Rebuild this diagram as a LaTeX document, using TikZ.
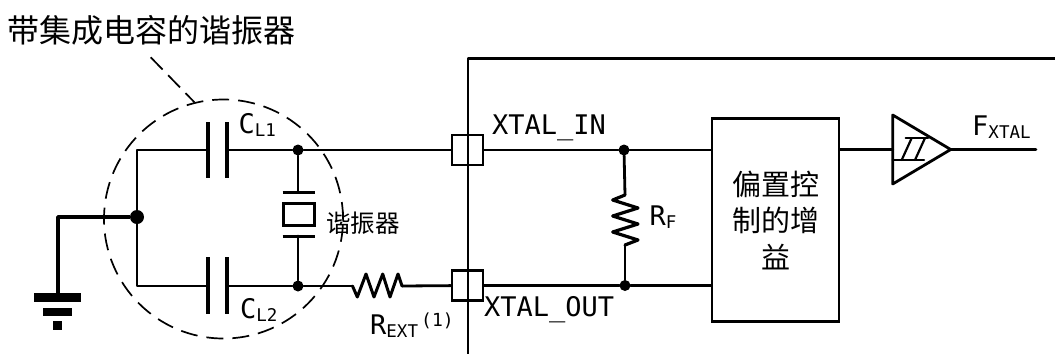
\documentclass[tikz,border=0pt]{standalone}
\usepackage{fontspec}
\setmainfont{DejaVu Sans Mono}
\newfontfamily\cjk{Noto Sans CJK SC}
\usepackage{xcolor}
\usetikzlibrary{arrows}
\newcommand{\sublow}[1]{\raisebox{-3.5pt}{\fontsize{17.5}{18}\selectfont #1}}

\begin{document}
\begin{tikzpicture}[x=1pt,y=-1pt,
  wire/.style = {line width=2.8pt,line cap=round,line join=round},
  plate/.style = {line width=4.4pt},
  lbl/.style = {anchor=base west,inner sep=0pt,font=\fontsize{27}{27}\selectfont},
  dot/.style = {circle,fill=black,inner sep=0pt,minimum size=11pt},
  pin/.style = {draw,fill=white,line width=2.8pt,minimum width=31pt,minimum height=30pt,inner sep=0pt},
  bar/.style = {fill=black,inner sep=0pt}]
\useasboundingbox (0,0) rectangle (1055,354);
\fill[white] (0,0) rectangle (1055,354);
% title and resonator circle
\node[inner sep=0pt,font=\cjk\fontsize{32}{32}\selectfont] (title) at (151.5,30) {带集成电容的谐振器};
\node[draw,dashed,circle,line width=1.7pt,minimum size=239pt,inner sep=0pt,dash pattern=on 17pt off 9pt] (res) at (223.5,219) {};
\coordinate (lead) at (150.7,57.3);
\draw[dashed,line width=1.7pt,dash pattern=on 17pt off 8pt] (lead) -- (res.104);
% pins and chip outline
\node[pin] (pinin) at (467.5,150) {};
\node[pin] (pinout) at (467.5,285.5) {};
\coordinate (chiptop) at (468,58.5);
\coordinate (chipend) at (1055,58.5);
\coordinate (chipbot) at (468,354);
\draw[wire,line cap=butt] (chipend) -- (chiptop) -- (chipbot);
% left side junctions
\node[dot,minimum size=14pt] (gnd) at (137,217) {};
\coordinate (lefttop) at (137,150);
\coordinate (leftbot) at (137,286);
\node[dot] (jtop) at (298,150) {};
\node[dot] (jbot) at (298,286) {};
\coordinate (c1a) at (208,150);
\coordinate (c1b) at (227,150);
\coordinate (c2a) at (208,286);
\coordinate (c2b) at (227,286);
\draw[wire] (c1a) -- (lefttop) -- (leftbot) -- (c2a);
\draw[wire] (c1b) -- (jtop);
\draw[wire] (c2b) -- (jbot);
\draw[plate] (208,122) -- (208,178);
\draw[plate] (227,122) -- (227,178);
\draw[plate] (208,257) -- (208,313.5);
\draw[plate] (227,257) -- (227,313.5);
\node[lbl] (cl1) at (238.5,133) {C\sublow{L1}};
\node[lbl] (cl2) at (240,318) {C\sublow{L2}};
% ground
\coordinate (gndbot) at (58,293);
\draw[line width=3.4pt,line join=round] (gnd) -| (gndbot);
\node[bar,minimum width=47pt,minimum height=8.4pt] (g1) at (57.5,297.5) {};
\node[bar,minimum width=29pt,minimum height=8.4pt] (g2) at (57.5,311.8) {};
\node[bar,minimum width=9.5pt,minimum height=8.4pt] (g3) at (57.5,325.5) {};
% crystal
\node[draw,line width=3pt,minimum width=31pt,minimum height=22pt,inner sep=0pt] (xtal) at (298.5,214) {};
\coordinate (xa) at (298,192);
\coordinate (xb) at (298,236);
\draw[wire] (jtop) -- (xa);
\draw[wire] (jbot) -- (xb);
\draw[line width=3pt] (282.5,192) -- (314.5,192);
\draw[line width=3pt] (282.5,236) -- (314.5,236);
\node[inner sep=0pt,font=\cjk\fontsize{24.5}{24.5}\selectfont] (xlbl) at (363,223) {谐振器};
% external resistor
\coordinate (ra) at (352.5,286);
\coordinate (rb) at (402,286);
\draw[wire] (jbot) -- (ra);
\draw[wire,line width=3pt] (ra) -- (357.3,297) -- (366,274) -- (374,297) -- (382.7,274) -- (390,297) -- (398,274) -- (rb);
\draw[wire] (rb) -- (pinout);
\node[lbl] (rext) at (370,334) {R\sublow{EXT}};
\node[lbl,font=\fontsize{18}{18}\selectfont] (rnote) at (421,326) {(1)};
% chip inside
\draw[wire] (jtop) -- (pinin);
\node[lbl] (xin) at (492,134) {XTAL\_IN};
\node[lbl] (xout) at (484,316) {XTAL\_OUT};
\node[draw,line width=2.8pt,minimum width=127pt,minimum height=203.5pt,inner sep=0pt,
  align=center,font=\cjk\fontsize{29}{36.5}\selectfont] (gain) at (775.5,220) {偏置控\\制的增\\益};
\node[dot] (jin) at (624,150) {};
\node[dot] (jout) at (625,285.5) {};
\draw[wire] (pinin) -- (jin) -- (jin -| gain.west);
\draw[wire] (pinout) -- (jout) -- (jout -| gain.west);
\coordinate (rfa) at (625,195);
\coordinate (rfb) at (625,245);
\draw[wire] (jin) -- (rfa);
\draw[wire] (jout) -- (rfb);
\draw[wire,line width=3.2pt] (rfa) -- (612.7,200) -- (638,208) -- (612.7,216) -- (638,224) -- (612.7,232) -- (638,240) -- (rfb);
\node[lbl] (rf) at (649.5,225) {R\sublow{F}};
% schmitt buffer
\coordinate (bufa) at (892.7,115);
\coordinate (bufb) at (892.7,184);
\coordinate (buftip) at (950.7,149.5);
\coordinate (fend) at (1036,149.5);
\draw[wire] (bufa) -- (buftip) -- (bufb) -- cycle;
\draw[wire] (gain.east |- buftip) -- (bufa |- buftip);
\draw[wire] (buftip) -- (fend);
\draw[wire,line width=2.2pt] (905.7,138) -- (928,138);
\draw[wire,line width=2.2pt] (892.7,160) -- (924,160);
\draw[wire,line width=2.2pt] (911.7,138) -- (901.7,160);
\draw[wire,line width=2.2pt] (925,138) -- (915,160);
\node[lbl] (fx) at (972,135) {F\sublow{XTAL}};
\end{tikzpicture}
\end{document}
